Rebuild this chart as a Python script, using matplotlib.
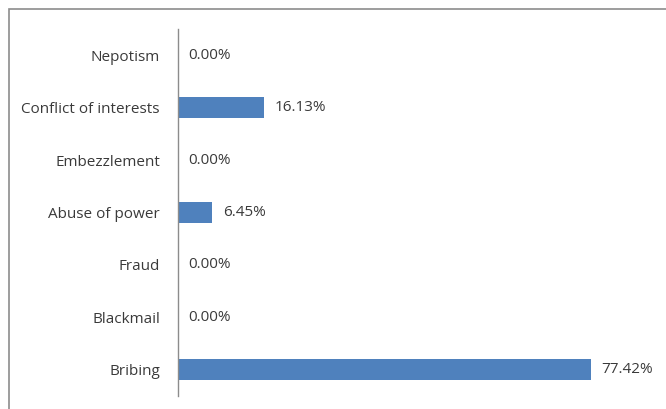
import matplotlib.pyplot as plt
from matplotlib.patches import Rectangle

# categories bottom -> top
categories = ["Bribing", "Blackmail", "Fraud", "Abuse of power",
              "Embezzlement", "Conflict of interests", "Nepotism"]
values = [77.42, 0.00, 0.00, 6.45, 0.00, 16.13, 0.00]

plt.rcParams['font.family'] = ['Open Sans', 'DejaVu Sans']
text_color = "#3a3a3a"
fsize = 11

fig = plt.figure(figsize=(6.66, 4.09), dpi=100)
W, H = 666, 409

# outer chart frame (cropped on right/bottom)
fig.patches.append(Rectangle((9 / W, -0.1), 1.2, 1 - 9 / H + 0.1,
                             transform=fig.transFigure, fill=False,
                             edgecolor="#8c8c8c", linewidth=1.2))

ax = fig.add_axes([178 / W, 13 / H, 480 / W, 367 / H])
ypos = list(range(len(categories)))
ax.barh(ypos, values, height=0.4, color="#4f81bd")
ax.set_xlim(0, 90)
ax.set_ylim(-0.5, len(categories) - 0.5)

for y, v in zip(ypos, values):
    ax.annotate(f"{v:.2f}%", (v, y), xytext=(7.5, 0), textcoords="offset points",
                va="center", ha="left", fontsize=fsize, color=text_color)

ax.set_yticks(ypos)
ax.set_yticklabels(categories, fontsize=fsize, color=text_color)
ax.tick_params(axis="y", length=0, pad=13)
ax.set_xticks([])
for side in ["top", "right", "bottom"]:
    ax.spines[side].set_visible(False)
ax.spines["left"].set_color("#8c8c8c")
ax.spines["left"].set_linewidth(1)

fig.savefig("out.png", dpi=100)
